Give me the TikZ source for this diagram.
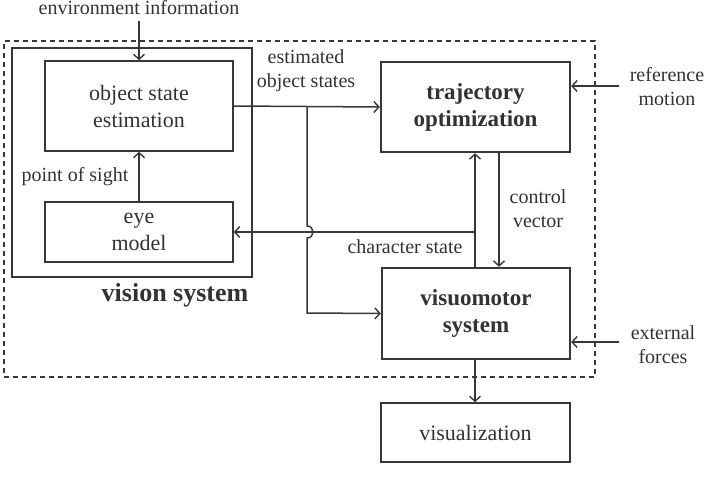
\documentclass[tikz,border=0pt]{standalone}
\usepackage{fontspec}
\setmainfont{Liberation Serif}
\usetikzlibrary{arrows.meta}
\definecolor{ink}{RGB}{55,55,55}
\definecolor{txt}{RGB}{50,50,50}
\begin{document}
\begin{tikzpicture}[x=1pt,y=-1pt,
  box/.style={draw=ink,line width=1.6pt,rectangle,align=center,text=txt,font=\fontsize{22}{27}\selectfont,inner sep=0pt},
  bbox/.style={draw=ink,line width=2.4pt,rectangle,align=center,text=txt,font=\fontsize{23}{27}\selectfont\bfseries,inner sep=0pt},
  lbl/.style={text=txt,align=center,font=\fontsize{20}{24}\selectfont,inner sep=0pt},
  conn/.style={draw=ink,line width=1.5pt},
  arr/.style={conn,-{Straight Barb[length=5pt,width=11pt,line width=1.4pt]}}]
\useasboundingbox (0,0) rectangle (709,477);
% frames
\node[draw=ink,line width=1.2pt,dashed,dash pattern=on 5pt off 4pt,minimum width=591pt,minimum height=336pt,inner sep=0pt] (outer) at (299.5,209) {};
\node[draw=ink,line width=1.6pt,minimum width=240pt,minimum height=229pt,inner sep=0pt] (vis) at (132,162.5) {};
% boxes
\node[box,minimum width=188pt,minimum height=90pt] (ose) at (139,106) {object state\\estimation};
\node[box,minimum width=188pt,minimum height=60pt] (eye) at (139,232) {eye\\model};
\node[bbox,minimum width=189pt,minimum height=90pt] (traj) at (475.5,107) {trajectory\\optimization};
\node[bbox,minimum width=188pt,minimum height=91pt] (vm) at (476,313.5) {visuomotor\\system};
\node[box,minimum width=189pt,minimum height=59pt] (viz) at (475.5,432.5) {visualization};
% labels
\node[lbl] (env) at (139,8) {environment information};
\node[lbl] (est) at (306,71) {estimated\\object states};
\node[lbl] (pos) at (75,177) {point of sight};
\node[lbl] (chs) at (405,247) {character state};
\node[lbl] (cv) at (538,209) {control\\vector};
\node[lbl] (rm) at (667,87) {reference\\motion};
\node[lbl] (ef) at (663,345) {external\\forces};
\node[text=txt,font=\fontsize{26}{30}\selectfont\bfseries,inner sep=0pt] (vslbl) at (175,295) {vision system};
% coordinates
\coordinate (envs) at (139,21);
\coordinate (br) at (307,107);
\coordinate (brd) at (307,313);
\coordinate (j1) at (307,226);
\coordinate (j2) at (307,238);
\coordinate (cs) at (475,232);
\coordinate (rms) at (619,86);
\coordinate (efs) at (619,342);
% connectors
\draw[arr] (envs) -- (ose.north);
\draw[arr] (eye.north) -- (ose.south);
\draw[arr] (ose.east) -- (traj.west);
\draw[arr] (br) -- (j1) .. controls (315,226) and (315,238) .. (j2) -- (brd) -- (vm.west);
\draw[arr] (vm.north -| cs) -- (traj.south -| cs);
\draw[arr] (cs) -- (eye.east |- cs);
\draw[arr] (traj.south -| 499,0) -- (vm.north -| 499,0);
\draw[arr] (rms) -- (traj.east |- rms);
\draw[arr] (efs) -- (vm.east |- efs);
\draw[arr] (vm.south -| cs) -- (viz.north -| cs);
\end{tikzpicture}
\end{document}
